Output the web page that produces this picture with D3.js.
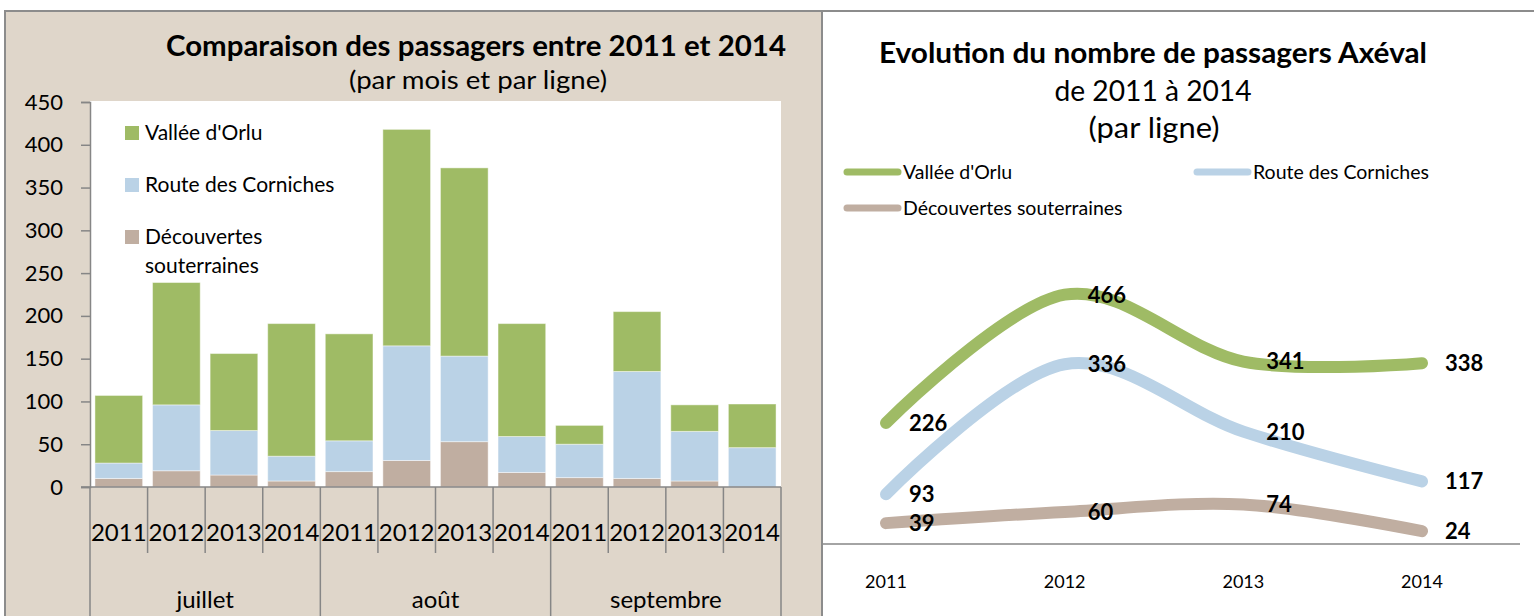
<!DOCTYPE html>
<html>
<head>
<meta charset="utf-8">
<script src="https://cdn.jsdelivr.net/npm/d3@7"></script>
<style>
  body { margin: 0; background: #fff; }
  svg { display: block; font-family: Lato, "Open Sans", sans-serif; }
</style>
</head>
<body>
<svg width="1534" height="616"></svg>
<script>
// ---- data ----
const months = ["juillet", "août", "septembre"]
const years = ["2011", "2012", "2013", "2014"]
const lignes = ["Découvertes souterraines", "Route des Corniches", "Vallée d'Orlu"]

// bars, ordered juillet 2011..2014, août 2011..2014, septembre 2011..2014
const decouvertes = [10, 19, 14, 7, 18, 31, 53, 17, 11, 10, 7, 0]
const corniches = [18, 77, 52, 29, 36, 134, 100, 42, 39, 125, 58, 46]
const orlu = [79, 143, 90, 155, 125, 253, 220, 132, 22, 70, 31, 51]

// yearly totals (right chart)
const orluTotal = [226, 466, 341, 338]
const cornichesTotal = [93, 336, 210, 117]
const decouvertesTotal = [39, 60, 74, 24]

const yTicks = [0, 50, 100, 150, 200, 250, 300, 350, 400, 450]

const colors = {
    "Vallée d'Orlu": "#9fbb65",
    "Route des Corniches": "#bad2e6",
    "Découvertes souterraines": "#c0aea1"
}

const svg = d3.select("svg")

// ---- panels ----
svg.append("rect")
    .attr("x", 5).attr("y", 11)
    .attr("width", 817).attr("height", 620)
    .attr("fill", "#dfd6ca")
    .attr("stroke", "#8c8c8c")
    .attr("stroke-width", 2)

svg.append("path")
    .attr("d", "M822,11H1540")
    .attr("stroke", "#8c8c8c")
    .attr("stroke-width", 2)

// ================= left chart =================
const rows = months.flatMap((m, i) => years.map((y, j) => {
    const k = i * 4 + j
    return {
        key: m + "-" + y, month: m, year: y,
        "Découvertes souterraines": decouvertes[k],
        "Route des Corniches": corniches[k],
        "Vallée d'Orlu": orlu[k]
    }
}))

const x = d3.scaleBand()
    .domain(rows.map(d => d.key))
    .range([90, 781])
    .paddingInner(0.172)
    .paddingOuter(0.086)

const y = d3.scaleLinear().domain([0, 450]).range([487, 102])

svg.append("rect")
    .attr("x", 90).attr("y", 101)
    .attr("width", 691).attr("height", 386)
    .attr("fill", "#fff")

const stacked = d3.stack().keys(lignes)(rows)

svg.append("g")
    .selectAll("g")
    .data(stacked)
    .join("g")
    .attr("fill", d => colors[d.key])
    .selectAll("rect")
    .data(d => d)
    .join("rect")
    .attr("x", d => x(d.data.key))
    .attr("width", x.bandwidth())
    .attr("y", d => y(d[1]))
    .attr("height", d => y(d[0]) - y(d[1]))
    .attr("stroke", "#ffffff")
    .attr("stroke-opacity", 0.45)
    .attr("stroke-width", 1)

// y axis
const yAxis = svg.append("g")
    .attr("transform", "translate(90,0)")
    .call(d3.axisLeft(y).tickValues(yTicks).tickSize(9).tickPadding(18))
yAxis.select(".domain").attr("stroke", "#868686").attr("stroke-width", 1.5)
yAxis.selectAll(".tick line").attr("stroke", "#868686").attr("stroke-width", 1.5)
yAxis.selectAll(".tick text")
    .attr("font-size", 22)
    .attr("font-family", "Lato, sans-serif")
    .attr("fill", "#000")

// x axis (two levels)
const step = x.step()
const xg = svg.append("g")
xg.append("line")
    .attr("x1", 81).attr("x2", 781)
    .attr("y1", 487).attr("y2", 487)
    .attr("stroke", "#868686").attr("stroke-width", 1.5)

d3.range(13).forEach(i => {
    const bx = 90 + i * step
    xg.append("line")
        .attr("x1", bx).attr("x2", bx)
        .attr("y1", 487).attr("y2", i % 4 == 0 ? 616 : 553)
        .attr("stroke", "#868686").attr("stroke-width", 1.5)
})

xg.selectAll("text.year")
    .data(rows)
    .join("text")
    .attr("class", "year")
    .attr("x", d => x(d.key) + x.bandwidth() / 2)
    .attr("y", 541)
    .attr("text-anchor", "middle")
    .attr("font-size", 24)
    .text(d => d.year)

xg.selectAll("text.month")
    .data(months)
    .join("text")
    .attr("class", "month")
    .attr("x", (d, i) => 90 + (i * 4 + 2) * step)
    .attr("y", 608)
    .attr("text-anchor", "middle")
    .attr("font-size", 24)
    .text(d => d)

// titles
svg.append("text")
    .attr("x", 476).attr("y", 56)
    .attr("text-anchor", "middle")
    .attr("font-size", 28).attr("font-weight", "bold")
    .attr("textLength", 620).attr("lengthAdjust", "spacingAndGlyphs")
    .text("Comparaison des passagers entre 2011 et 2014")
svg.append("text")
    .attr("x", 478).attr("y", 89)
    .attr("text-anchor", "middle")
    .attr("font-size", 25)
    .attr("textLength", 258).attr("lengthAdjust", "spacingAndGlyphs")
    .text("(par mois et par ligne)")

// legend inside plot
const legLeft = [
    { name: "Vallée d'Orlu", lines: ["Vallée d'Orlu"], y: 126 },
    { name: "Route des Corniches", lines: ["Route des Corniches"], y: 178 },
    { name: "Découvertes souterraines", lines: ["Découvertes", "souterraines"], y: 230 }
]
const lg = svg.append("g")
legLeft.forEach(l => {
    lg.append("rect")
        .attr("x", 125).attr("y", l.y)
        .attr("width", 14).attr("height", 14)
        .attr("fill", colors[l.name])
    l.lines.forEach((t, i) => {
        lg.append("text")
            .attr("x", 145).attr("y", l.y + 14 + i * 29)
            .attr("font-size", 21)
            .text(t)
    })
})

// ================= right chart =================
const x2 = d3.scalePoint().domain(years).range([886, 1422])
const y2 = d3.scaleLinear().domain([0, 600]).range([544, 223])

const series = [
    { name: "Vallée d'Orlu", values: orluTotal },
    { name: "Route des Corniches", values: cornichesTotal },
    { name: "Découvertes souterraines", values: decouvertesTotal }
]

const line = d3.line()
    .x((d, i) => x2(years[i]))
    .y(d => y2(d))
    .curve(d3.curveCardinal.tension(0))

svg.append("line")
    .attr("x1", 823).attr("x2", 1520)
    .attr("y1", 544).attr("y2", 544)
    .attr("stroke", "#868686").attr("stroke-width", 1.5)

svg.append("g")
    .selectAll("path")
    .data(series)
    .join("path")
    .attr("d", d => line(d.values))
    .attr("fill", "none")
    .attr("stroke", d => colors[d.name])
    .attr("stroke-width", 12)
    .attr("stroke-linecap", "round")

const labels = series.flatMap(s => s.values.map((v, i) => ({ v, year: years[i] })))
svg.append("g")
    .selectAll("text")
    .data(labels)
    .join("text")
    .attr("x", d => x2(d.year) + 23)
    .attr("y", d => y2(d.v))
    .attr("dy", "0.36em")
    .attr("font-size", 22)
    .attr("font-weight", "bold")
    .text(d => d.v)

svg.append("g")
    .selectAll("text")
    .data(years)
    .join("text")
    .attr("x", d => x2(d))
    .attr("y", 588)
    .attr("text-anchor", "middle")
    .attr("font-size", 18)
    .text(d => d)

// right titles
svg.append("text")
    .attr("x", 1153).attr("y", 63)
    .attr("text-anchor", "middle")
    .attr("font-size", 28).attr("font-weight", "bold")
    .attr("textLength", 548).attr("lengthAdjust", "spacingAndGlyphs")
    .text("Evolution du nombre de passagers Axéval")
svg.append("text")
    .attr("x", 1153).attr("y", 101)
    .attr("text-anchor", "middle")
    .attr("font-size", 28)
    .attr("textLength", 197).attr("lengthAdjust", "spacingAndGlyphs")
    .text("de 2011 à 2014")
svg.append("text")
    .attr("x", 1154).attr("y", 138)
    .attr("text-anchor", "middle")
    .attr("font-size", 28)
    .attr("textLength", 131).attr("lengthAdjust", "spacingAndGlyphs")
    .text("(par ligne)")

// right legend
const legRight = [
    { name: "Vallée d'Orlu", x: 843, y: 172 },
    { name: "Route des Corniches", x: 1193, y: 172 },
    { name: "Découvertes souterraines", x: 843, y: 208 }
]
const rg = svg.append("g")
legRight.forEach(l => {
    rg.append("line")
        .attr("x1", l.x + 4).attr("x2", l.x + 55)
        .attr("y1", l.y).attr("y2", l.y)
        .attr("stroke", colors[l.name])
        .attr("stroke-width", 7)
        .attr("stroke-linecap", "round")
    rg.append("text")
        .attr("x", l.x + 60).attr("y", l.y)
        .attr("dy", "0.36em")
        .attr("font-size", 19.5)
        .text(l.name)
})
</script>
</body>
</html>
